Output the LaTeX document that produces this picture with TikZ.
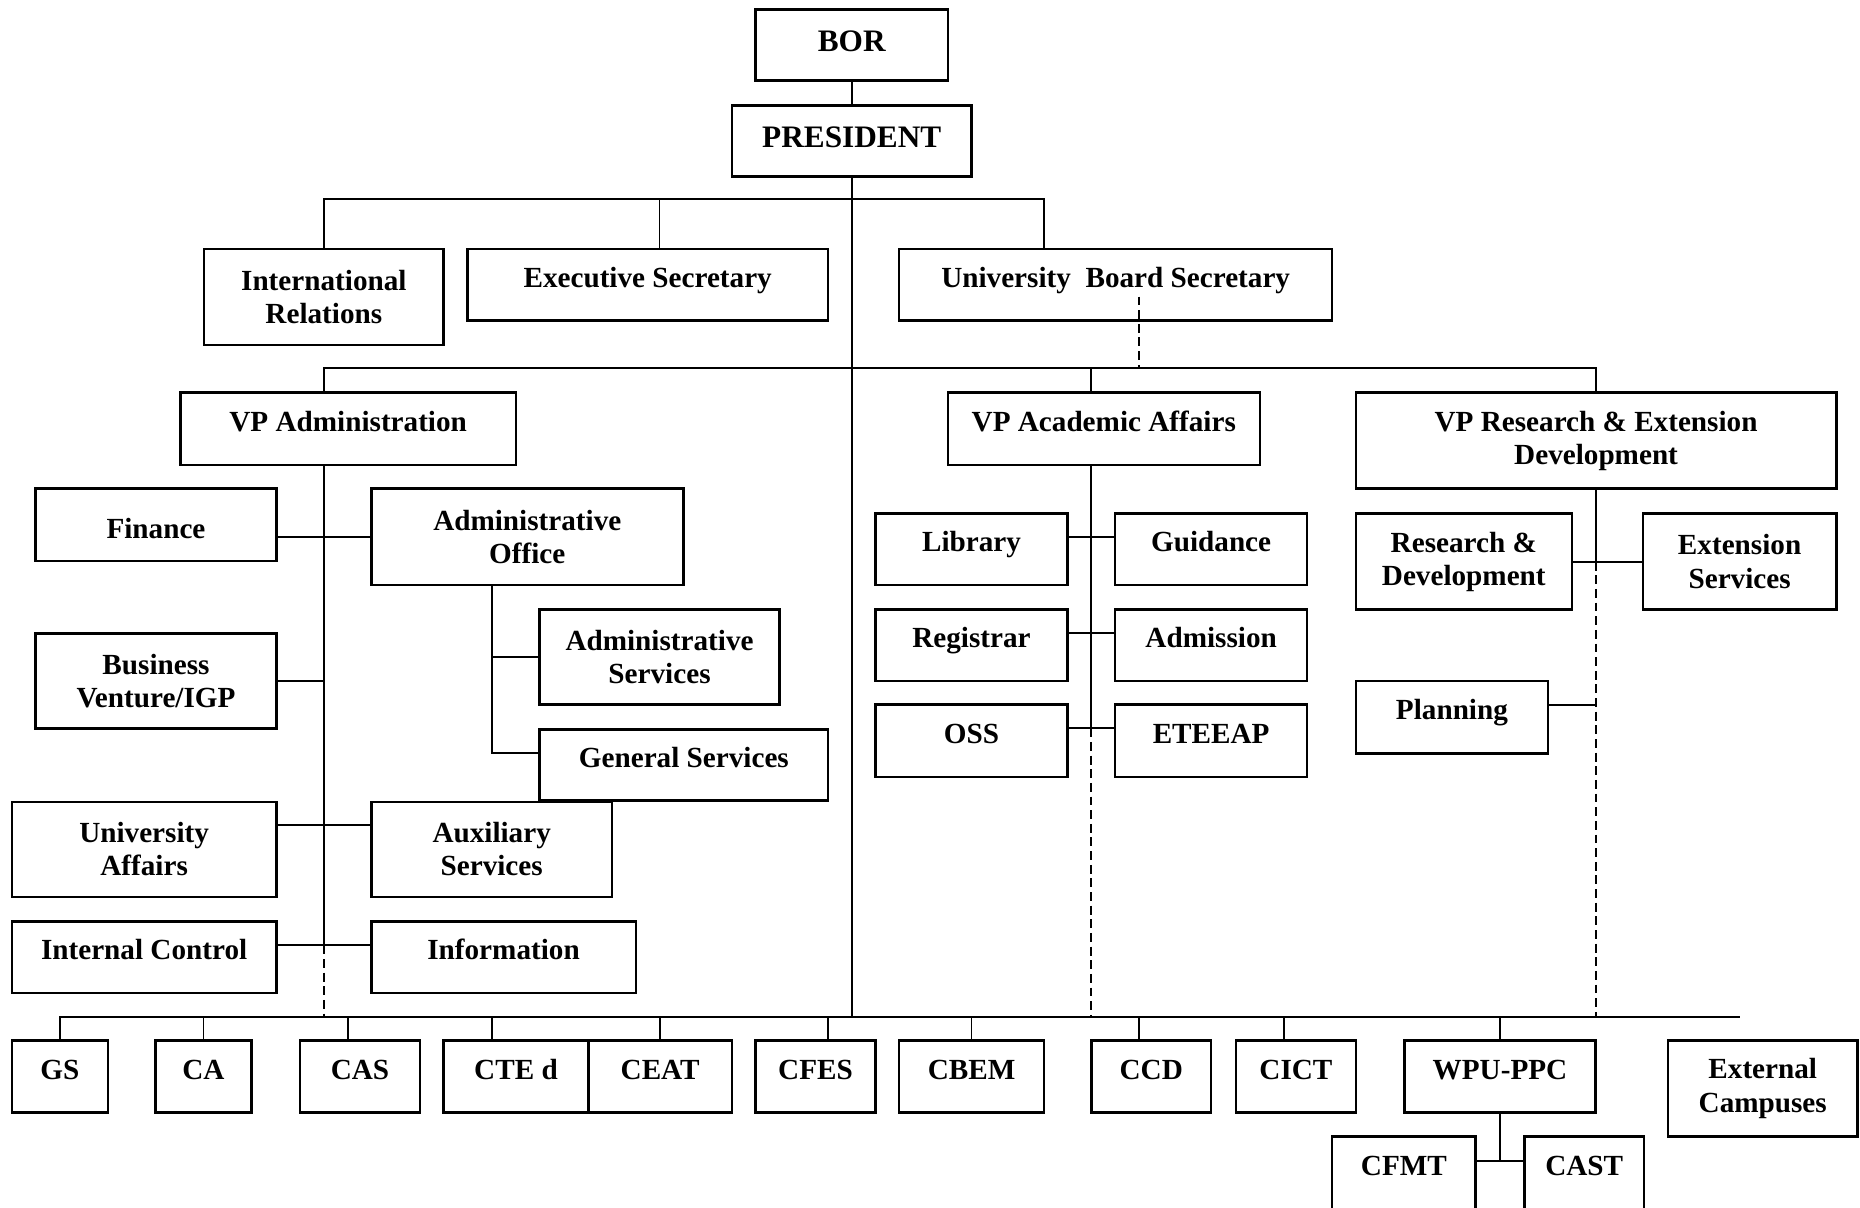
\documentclass[tikz,border=0pt]{standalone}
\usepackage{fontspec}
\setmainfont{Liberation Serif}
\tikzset{
	box/.style = {
			draw,
			rectangle,
			line width = 1.2pt,
			inner sep = 2pt,
			align = center,
			font = \fontsize{14}{16}\selectfont\bfseries,
			minimum height = 12mm,
			text height = 3.4mm,
			text depth = 2.5mm
		},
	tall/.style = {
			minimum height = 16.2mm,
			text height = {},
			text depth = {}
		},
	head/.style = {
			font = \fontsize{15}{17}\selectfont\bfseries,
			text height = 4mm,
			text depth = 1.9mm
		},
	link/.style = {draw, line width = 0.9pt},
	dashline/.style = {draw, line width = 0.9pt, dash pattern = on 1.5mm off 0.8mm}
}

\begin{document}
\begin{tikzpicture}[x=0.2mm, y=-0.2mm]
    \useasboundingbox (0,0) rectangle (1568,1018);
    \clip (0,0) rectangle (1568,1018);

    \node[box, head, minimum width=32.4mm] at (718,38) (bor) {BOR};
    \node[box, head, minimum width=40.4mm] at (718,119) (pres) {PRESIDENT};

    \node[box, tall, minimum width=40.4mm] at (273,250.5) (intrel) {International\\Relations};
    \node[box, minimum width=60.8mm] at (546,240) (exsec) {Executive Secretary};
    \node[box, minimum width=73mm] at (940.5,240) (ubs) {University\ \ Board Secretary};

    \node[box, minimum width=56.6mm, minimum height=12.2mm] at (293.5,361.5) (vpadm) {VP Administration};
    \node[box, minimum width=52.6mm, minimum height=12.2mm] at (930.5,361.5) (vpaca) {VP Academic Affairs};
    \node[box, tall, minimum width=81mm] at (1345.5,371.5) (vpres) {VP Research \& Extension\\Development};

    \node[box, minimum width=40.6mm, minimum height=12.2mm, text height=5.2mm, text depth=0.7mm] at (131.5,442.5) (fin) {Finance};
    \node[box, tall, minimum width=52.6mm] at (444.5,452.5) (adoff) {Administrative\\Office};
    \node[box, tall, minimum width=40.6mm, minimum height=16mm] at (131.5,574) (biz) {Business\\Venture/IGP};
    \node[box, tall, minimum width=40.4mm, minimum height=16mm] at (556,554) (adsrv) {Administrative\\Services};
    \node[box, minimum width=48.6mm] at (576.5,645) (gensrv) {General Services};
    \node[box, tall, minimum width=44.6mm, minimum height=16mm] at (121.5,716) (univaff) {University\\Affairs};
    \node[box, tall, minimum width=40.6mm, minimum height=16mm] at (414.5,716) (aux) {Auxiliary\\Services};
    \node[box, minimum width=44.6mm] at (121.5,807) (intctl) {Internal Control};
    \node[box, minimum width=44.6mm] at (424.5,807) (info) {Information};

    \node[box, minimum width=32.4mm] at (819,463) (lib) {Library};
    \node[box, minimum width=32.4mm] at (1021,463) (guid) {Guidance};
    \node[box, minimum width=32.4mm] at (819,544) (reg) {Registrar};
    \node[box, minimum width=32.4mm] at (1021,544) (adm) {Admission};
    \node[box, minimum width=32.4mm, minimum height=12.2mm] at (819,624.5) (oss) {OSS};
    \node[box, minimum width=32.4mm, minimum height=12.2mm] at (1021,624.5) (etee) {ETEEAP};

    \node[box, tall, minimum width=36.4mm] at (1234,473.5) (rnd) {Research \&\\Development};
    \node[box, tall, minimum width=32.6mm] at (1466.5,473.5) (ext) {Extension\\Services};
    \node[box, minimum width=32.4mm, minimum height=12.2mm] at (1224,604.5) (plan) {Planning};

    \node[box, minimum width=16.2mm, minimum height=12.2mm] at (50.5,907.5) (gs) {GS};
    \node[box, minimum width=16.2mm, minimum height=12.2mm] at (171.5,907.5) (ca) {CA};
    \node[box, minimum width=20.2mm, minimum height=12.2mm] at (303.5,907.5) (cas) {CAS};
    \node[box, minimum width=24.4mm, minimum height=12.2mm] at (435,907.5) (cte) {CTE d};
    \node[box, minimum width=24.2mm, minimum height=12.2mm] at (556.5,907.5) (ceat) {CEAT};
    \node[box, minimum width=20.2mm, minimum height=12.2mm] at (687.5,907.5) (cfes) {CFES};
    \node[box, minimum width=24.4mm, minimum height=12.2mm] at (819,907.5) (cbem) {CBEM};
    \node[box, minimum width=20.2mm, minimum height=12.2mm] at (970.5,907.5) (ccd) {CCD};
    \node[box, minimum width=20.2mm, minimum height=12.2mm] at (1092.5,907.5) (cict) {CICT};
    \node[box, minimum width=32.2mm, minimum height=12.2mm] at (1264.5,907.5) (wpu) {WPU-PPC};
    \node[box, tall, minimum width=32mm] at (1486,917.5) (extc) {External\\Campuses};
    \node[box, minimum width=24.2mm, minimum height=12.4mm] at (1183.5,989) (cfmt) {CFMT};
    \node[box, minimum width=20.2mm, minimum height=12.4mm] at (1335.5,989) (cast) {CAST};

    \coordinate (busE) at (1467,857);

    \draw[link] (bor) -- (pres);
    \draw[link] (pres) -- (pres |- busE);
    \draw[link] (intrel.north) -- ++(0,-41) -| ([xshift=-12.1mm]ubs.north);
    \draw[link] ([xshift=2mm]exsec.north) -- ++(0,-41);
    \draw[dashline] ([xshift=3.9mm,yshift=-2mm]ubs.center) -- ([xshift=3.9mm,yshift=4mm]ubs.center |- vpaca.north);

    \draw[link] ([xshift=-4mm]vpadm.north) -- ++(0,-20) -| (vpres.north);
    \draw[link] ([xshift=-2.1mm]vpaca.north) -- ++(0,-20);

    \coordinate (admx) at ([xshift=-4mm]vpadm.south);
    \draw[link] (admx) -- ([yshift=2mm]admx |- intctl.east);
    \draw[dashline] ([yshift=2mm]admx |- intctl.east) -- (admx |- busE);
    \draw[link] (fin.east |- adoff.west) -- (adoff.west);
    \draw[link] (biz.east) -- (biz.east -| admx);
    \draw[link] ([yshift=4.1mm]univaff.east) -- ([yshift=4.1mm]aux.west);
    \draw[link] ([yshift=2mm]intctl.east) -- ([yshift=2mm]info.west);
    \coordinate (offx) at ([xshift=-5.9mm]adoff.south);
    \draw[link] (offx) |- ([yshift=2mm]gensrv.west);
    \draw[link] (adsrv.west) -- (adsrv.west -| offx);

    \coordinate (acx) at ([xshift=-2.1mm]vpaca.south);
    \draw[link] (acx) -- ([yshift=2.1mm]acx |- oss.east);
    \draw[dashline] ([yshift=2.1mm]acx |- oss.east) -- (acx |- busE);
    \draw[link] ([yshift=2.1mm]lib.east) -- ([yshift=2.1mm]guid.west);
    \draw[link] ([yshift=2.1mm]reg.east) -- ([yshift=2.1mm]adm.west);
    \draw[link] ([yshift=2.1mm]oss.east) -- ([yshift=2.1mm]etee.west);

    \draw[link] (vpres.south) -- (vpres.south |- rnd.east);
    \draw[dashline] (vpres.south |- rnd.east) -- (vpres.south |- busE);
    \draw[link] (rnd.east) -- (ext.west);
    \draw[link] ([yshift=2.1mm]plan.east) -- ([yshift=2.1mm]plan.east -| vpres.south);

    \draw[link] (gs.north) |- (busE);
    \draw[link] (ca.north) -- (ca.north |- busE);
    \draw[link] ([xshift=-2.1mm]cas.north) -- ([xshift=-2.1mm]cas.north |- busE);
    \draw[link] ([xshift=-4.1mm]cte.north) -- ([xshift=-4.1mm]cte.north |- busE);
    \draw[link] (ceat.north) -- (ceat.north |- busE);
    \draw[link] ([xshift=2.1mm]cfes.north) -- ([xshift=2.1mm]cfes.north |- busE);
    \draw[link] (cbem.north) -- (cbem.north |- busE);
    \draw[link] ([xshift=-2mm]ccd.north) -- ([xshift=-2mm]ccd.north |- busE);
    \draw[link] ([xshift=-2mm]cict.north) -- ([xshift=-2mm]cict.north |- busE);
    \draw[link] (wpu.north) -- (wpu.north |- busE);
    \draw[link] (wpu.south) -- ([yshift=2mm]wpu.south |- cfmt.east);
    \draw[link] ([yshift=2mm]cfmt.east) -- ([yshift=2mm]cast.west);
  \end{tikzpicture}
\end{document}
